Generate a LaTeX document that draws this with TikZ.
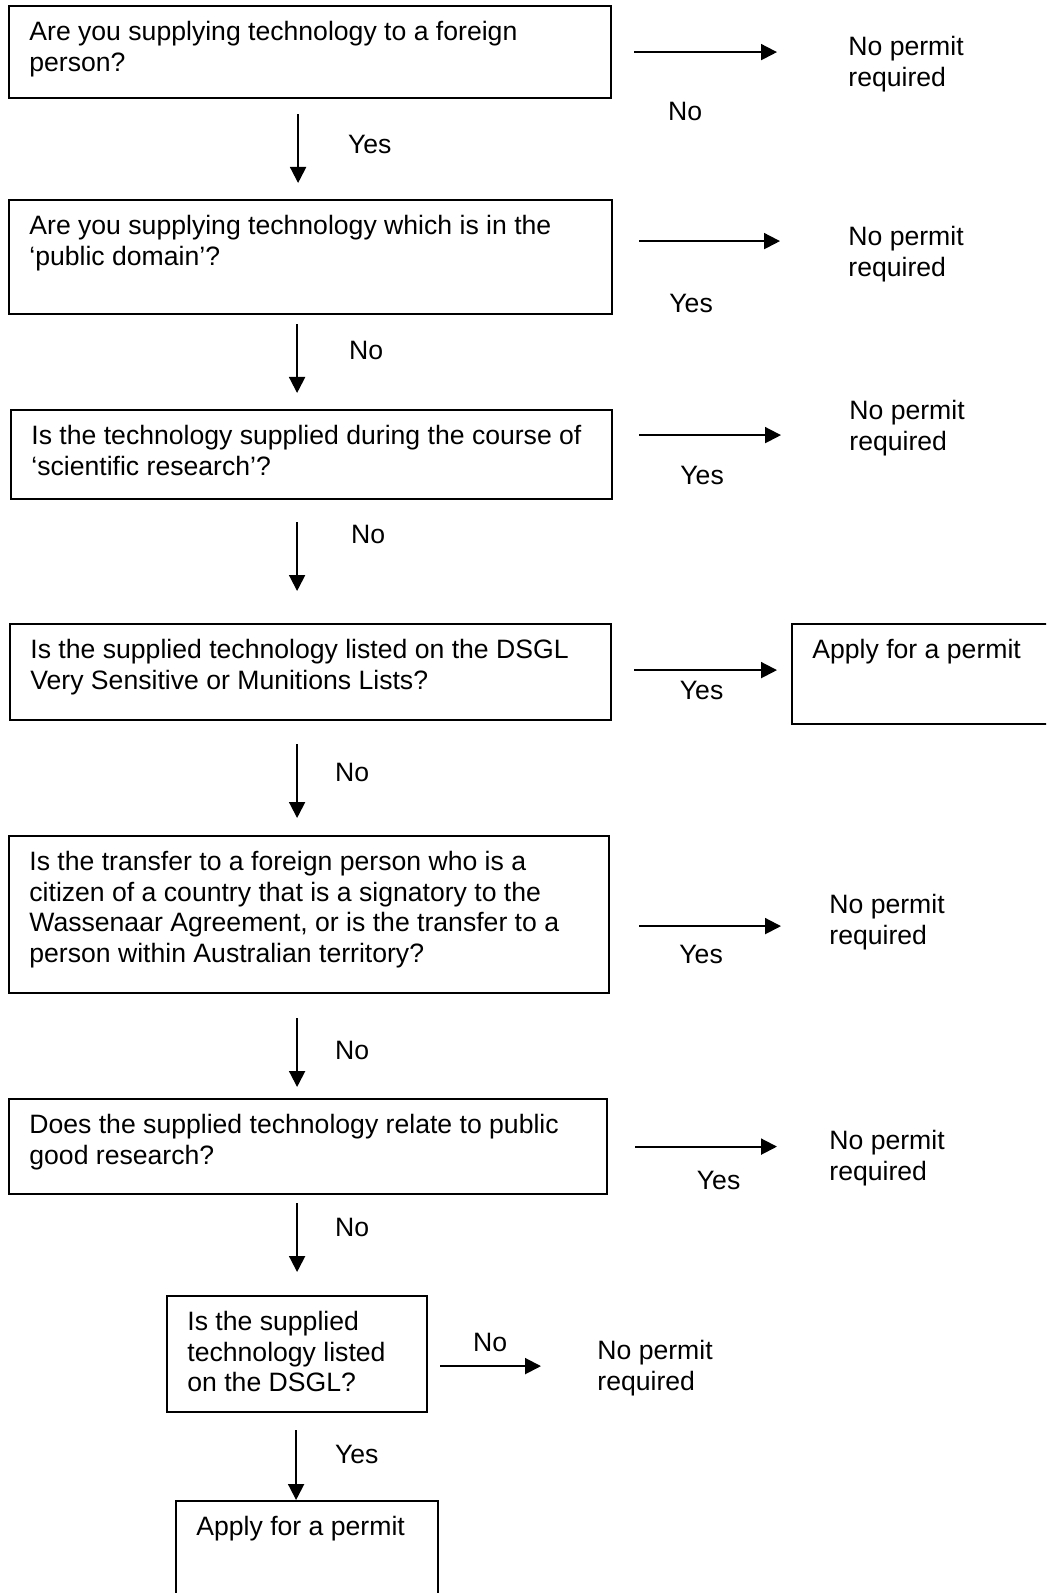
\documentclass[tikz,border=0pt]{standalone}
\usepackage{fontspec}
\setmainfont{Liberation Sans}
\usetikzlibrary{positioning, arrows.meta}

\begin{document}
\begin{tikzpicture}[
    x=0.5pt, y=-0.5pt,
    font=\fontsize{13.3}{15.3}\selectfont,
    qbox/.style={rectangle, draw, line width=1.1pt, anchor=north west, inner sep=0pt},
    qtext/.style={align=left, inner sep=0pt},
    result/.style={align=left, inner sep=0pt, anchor=north west},
    lbl/.style={inner sep=0pt},
    arrow/.style={-{Triangle[length=8pt, width=8pt]}, line width=1pt}
]
\useasboundingbox (0,0) rectangle (1046,1593);
\clip (0,0) rectangle (1046,1593);

\node[qbox, minimum width=301pt, minimum height=46pt] (q1) at (8,5) {};
\node[qbox, minimum width=301.5pt, minimum height=57pt] (q2) at (8,199) {};
\node[qbox, minimum width=300.5pt, minimum height=44.5pt] (q3) at (10,409) {};
\node[qbox, minimum width=300.5pt, minimum height=48pt] (q4) at (9,623) {};
\node[qbox, minimum width=300pt, minimum height=78.5pt] (q5) at (8,835) {};
\node[qbox, minimum width=299pt, minimum height=47.5pt] (q6) at (8,1098) {};
\node[qbox, minimum width=130pt, minimum height=58pt] (q7) at (166,1295) {};
\node[qbox, minimum width=140pt, minimum height=50pt] (a4) at (791,623) {};
\node[qbox, minimum width=131pt, minimum height=65pt] (a8) at (175,1500) {};

\node[qtext, below right=8pt and 10.5pt of q1.north west] (t1) {Are you supplying technology to a foreign\\person?};
\node[qtext, below right=8pt and 10.5pt of q2.north west] (t2) {Are you supplying technology which is in the\\‘public domain’?};
\node[qtext, below right=8pt and 10.5pt of q3.north west] (t3) {Is the technology supplied during the course of\\‘scientific research’?};
\node[qtext, below right=8pt and 10.5pt of q4.north west] (t4) {Is the supplied technology listed on the DSGL\\Very Sensitive or Munitions Lists?};
\node[qtext, below right=8pt and 10.5pt of q5.north west] (t5) {Is the transfer to a foreign person who is a\\citizen of a country that is a signatory to the\\Wassenaar Agreement, or is the transfer to a\\person within Australian territory?};
\node[qtext, below right=8pt and 10.5pt of q6.north west] (t6) {Does the supplied technology relate to public\\good research?};
\node[qtext, below right=8pt and 10.5pt of q7.north west] (t7) {Is the supplied\\technology listed\\on the DSGL?};
\node[qtext, below right=8pt and 10.5pt of a4.north west] (ta4) {Apply for a permit};
\node[qtext, below right=8pt and 10.5pt of a8.north west] (ta8) {Apply for a permit};

\node[result] (n1) at (848,36) {No permit\\required};
\node[result] (n2) at (848,226) {No permit\\required};
\node[result] (n3) at (849,400) {No permit\\required};
\node[result] (n5) at (829,894) {No permit\\required};
\node[result] (n6) at (829,1130) {No permit\\required};
\node[result] (n7) at (597,1340) {No permit\\required};

\draw[arrow, shorten <=11pt, shorten >=35.5pt] (q1.east) -- node[lbl, below=24.8pt, xshift=-22.5pt] (l1) {No} (q1.east -| n1.west);
\draw[arrow, shorten <=13pt, shorten >=34pt] ([yshift=8pt]q2.east) -- node[lbl, below=26.3pt, xshift=-19.75pt] (l2) {Yes} ([yshift=8pt]q2.east -| n2.west);
\draw[arrow, shorten <=13pt, shorten >=34pt] ([yshift=9.75pt]q3.east) -- node[lbl, below=14.8pt, xshift=-14.5pt] (l3) {Yes} ([yshift=9.75pt]q3.east -| n3.west);
\draw[arrow, shorten <=11pt, shorten >=7pt] ([yshift=1pt]q4.east) -- node[lbl, below=4.8pt] (l4) {Yes} ([yshift=1pt]q4.east -| a4.west);
\draw[arrow, shorten <=14.5pt, shorten >=24pt] ([yshift=-5.75pt]q5.east) -- node[lbl, below=8.8pt, xshift=-9.25pt] (l5) {Yes} ([yshift=-5.75pt]q5.east -| n5.west);
\draw[arrow, shorten <=13.5pt, shorten >=26pt] (q6.east) -- node[lbl, below=11.8pt] (l6) {Yes} (q6.east -| n6.west);
\draw[arrow, shorten <=6pt, shorten >=28pt] ([yshift=-6pt]q7.east) -- node[lbl, above=6.8pt, xshift=-11.25pt] (l7) {No} ([yshift=-6pt]q7.east -| n7.west);

\draw[arrow, shorten <=7.5pt, shorten >=8pt] ([xshift=-6pt]q1.south) -- node[lbl, pos=.45, right=24.5pt] (m1) {Yes} ([xshift=-6pt]q1.south |- q2.north);
\draw[arrow, shorten <=4.5pt, shorten >=8pt] ([xshift=-6.75pt]q2.south) -- node[lbl, pos=.375, right=25.5pt] (m2) {No} ([xshift=-6.75pt]q2.south |- q3.north);
\draw[arrow, shorten <=11pt, shorten >=16pt] ([xshift=-7.25pt]q3.south) -- node[lbl, pos=.28, right=26.5pt] (m3) {No} ([xshift=-7.25pt]q3.south |- q4.north);
\draw[arrow, shorten <=11.5pt, shorten >=8.5pt] ([xshift=-6.75pt]q4.south) -- node[lbl, pos=.45, right=18.5pt] (m4) {No} ([xshift=-6.75pt]q4.south |- q5.north);
\draw[arrow, shorten <=12pt, shorten >=5.5pt] ([xshift=-6pt]q5.south) -- node[lbl, pos=.54, right=18.5pt] (m5) {No} ([xshift=-6pt]q5.south |- q6.north);
\draw[arrow, shorten <=4pt, shorten >=11.5pt] ([xshift=-5.5pt]q6.south) -- node[lbl, pos=.32, right=18.5pt] (m6) {No} ([xshift=-5.5pt]q6.south |- q7.north);
\draw[arrow, shorten <=8.5pt] ([xshift=-0.5pt]q7.south) -- node[lbl, pos=.47, right=19pt] (m7) {Yes} ([xshift=-0.5pt]q7.south |- a8.north);

\end{tikzpicture}
\end{document}
